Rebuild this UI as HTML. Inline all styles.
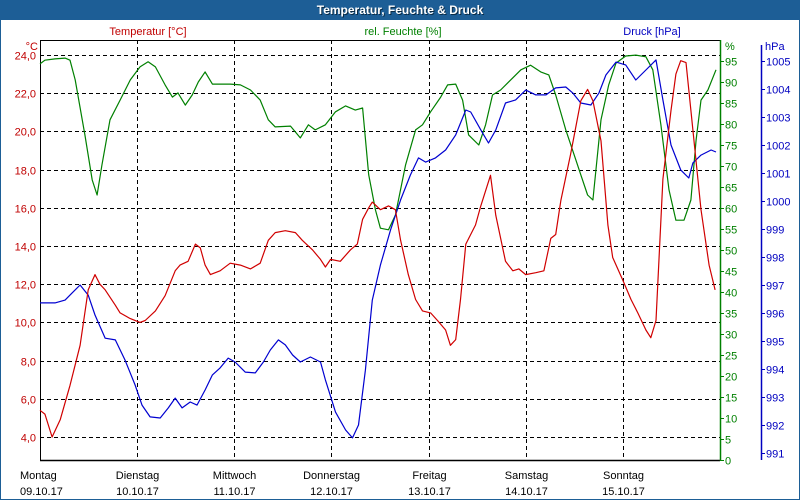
<!DOCTYPE html>
<html><head><meta charset="utf-8"><style>
body{margin:0;background:#fff;}
svg{display:block;font-family:"Liberation Sans",sans-serif;}
</style></head><body>
<svg id="chart" width="800" height="500" viewBox="0 0 800 500">
<rect x="0" y="0" width="800" height="500" fill="#fff" stroke="#1d5e96" stroke-width="2"/>
<rect x="0" y="0" width="800" height="20" fill="#1d5e96"/>
<text x="401" y="15" text-anchor="middle" font-size="12" font-weight="bold" fill="#0a2a44">Temperatur, Feuchte &amp; Druck</text>
<text x="400" y="14" text-anchor="middle" font-size="12" font-weight="bold" fill="#fff">Temperatur, Feuchte &amp; Druck</text>
<text x="148" y="35" text-anchor="middle" font-size="11" fill="#c00000">Temperatur [°C]</text>
<text x="403" y="35" text-anchor="middle" font-size="11" fill="#008000">rel. Feuchte [%]</text>
<text x="652" y="35" text-anchor="middle" font-size="11" fill="#0000c0">Druck [hPa]</text>
<text x="38" y="50" text-anchor="end" font-size="11" fill="#c00000">°C</text>
<text x="725" y="50" font-size="11" fill="#008000">%</text>
<text x="765" y="50" font-size="11" fill="#0000c0">hPa</text>
<g id="grid"></g><g id="axes"></g><g id="series"></g>
</svg>
<script>
const days=["Montag","Dienstag","Mittwoch","Donnerstag","Freitag","Samstag","Sonntag"];
const dates=["09.10.17","10.10.17","11.10.17","12.10.17","13.10.17","14.10.17","15.10.17"];
const tempTicks=[4,6,8,10,12,14,16,18,20,22,24];
const humTicks=[0,5,10,15,20,25,30,35,40,45,50,55,60,65,70,75,80,85,90,95];
const presTicks=[991,992,993,994,995,996,997,998,999,1000,1001,1002,1003,1004,1005];
const tempHours=[0,1.2,3,5,7.4,9.9,11.9,13.6,14.8,16.1,18.6,19.8,22.3,24.7,26,28.5,30.9,33.4,34.6,36.6,38.4,39.6,40.8,42.1,44.5,47,49.5,52,54.4,56.4,58.1,60.6,63.1,64.8,67.3,69.3,70.5,71.8,74.2,76.7,78.4,79.7,81.2,82.1,84.1,86.1,87.8,89.1,91,92.8,94.5,96.5,98.2,100.2,101.4,102.7,103.9,105.2,107.6,108.9,111.3,112.6,115,116.8,118.3,120,122.5,124.5,126.2,127.4,128.7,131.1,133.6,135.3,136.6,138.6,140.3,141.5,144,146,147.7,149.7,150.9,152.2,153.9,155.9,157.1,158.3,159.6,160.8,163.3,165.3,166.8];
const tempValues=[5.4,5.2,4.0,4.9,6.7,8.8,11.7,12.5,12.0,11.7,10.9,10.5,10.2,10.0,10.1,10.6,11.4,12.7,13.0,13.2,14.1,13.9,13.0,12.5,12.7,13.1,13.0,12.8,13.1,14.3,14.7,14.8,14.7,14.3,13.8,13.3,12.9,13.3,13.2,13.8,14.1,15.4,16.0,16.3,15.9,16.1,15.9,14.3,12.5,11.2,10.6,10.5,10.1,9.6,8.8,9.1,11.2,14.1,15.1,16.1,17.7,15.6,13.2,12.7,12.8,12.5,12.6,12.7,14.4,14.6,16.4,18.8,21.6,22.2,21.6,19.5,15.1,13.4,12.2,11.2,10.5,9.6,9.2,10.1,17.5,21.1,23.0,23.7,23.6,21.1,15.9,13.0,11.7];
const humHours=[0,1.2,3.7,6.2,7.4,8.7,11.1,12.9,14.1,15.3,17.3,19.8,22.3,24.7,26.7,28.5,30.9,32.7,34.1,35.9,37.6,39.1,40.8,42.6,44.5,47,49.5,52,54.4,56.4,58.1,61.9,64.3,66.3,68,70.5,73,75.5,77.9,79.7,81.2,82.9,84.1,86.1,87.8,90.3,92.8,94.5,96.5,99,100.7,102.7,104.4,105.9,108.4,110.1,111.8,113.8,116.3,118.8,121.2,123.7,125.7,127.4,129.9,132.4,133.6,135.3,136.6,138.6,140.5,142.3,144.7,147.2,149.7,151.4,153.4,155.4,157.1,159.1,160.8,162.1,163.3,165,167];
const humValues=[94.3,95.2,95.5,95.7,95.2,90.5,77.4,66.7,63.1,70.2,81,85.7,90.5,93.6,94.8,93.6,89.3,86.4,87.4,84.5,86.9,90,92.4,89.5,89.5,89.5,89.3,88.1,85.7,81,79.3,79.5,76.7,79.8,78.6,79.8,82.9,84.3,83.3,83.8,67.9,59.5,55.2,54.8,58.3,70.2,78.6,79.8,82.9,86.4,89.3,89.5,85.7,77.4,75,79.8,86.9,88.1,90.5,92.9,94,92.4,91.7,86.9,78.6,71.4,67.9,63.1,61.9,81,89.3,94.5,96.2,96.4,96,92.9,79.8,64.3,57.1,57.1,61.9,76.2,85.7,88.1,92.9];
const presHours=[0,3.7,6.2,7.9,9.9,11.9,13.6,16.1,18.6,21,23.5,25.2,27.2,29.7,31.7,33.4,35.1,37.1,38.8,40.8,42.6,44.5,46.5,48.2,50.7,53.2,55.2,56.9,58.9,60.6,62.4,64.3,66.8,69.3,70.5,73,75.5,77.2,78.7,80.4,82.1,84.1,86.6,89.1,91.5,93.5,95.3,97.7,100.2,102.7,105.2,106.4,108.9,110.8,112.6,115,117.5,120,122.5,125,127.4,129.9,131.6,133.6,136.1,138.1,139.8,142.3,144.7,147.2,149.7,152.2,153.9,155.9,158.3,160.3,161.3,163.3,165.8,167];
const presValues=[996.36,996.36,996.46,996.71,997.0,996.64,995.93,995.1,995.04,994.32,993.43,992.71,992.29,992.25,992.61,992.96,992.61,992.82,992.71,993.25,993.79,994.04,994.39,994.25,993.89,993.86,994.25,994.68,995.04,994.86,994.5,994.25,994.43,994.25,993.61,992.46,991.82,991.54,992.0,993.96,996.46,997.71,998.96,1000.04,1000.93,1001.54,1001.39,1001.54,1001.82,1002.36,1003.25,1003.18,1002.54,1002.07,1002.54,1003.5,1003.61,1003.96,1003.79,1003.79,1004.04,1004.07,1003.86,1003.5,1003.43,1003.86,1004.5,1004.96,1004.86,1004.32,1004.68,1005.04,1003.61,1002.0,1001.11,1000.82,1001.36,1001.64,1001.82,1001.75];

const L=40,R=720,T=40,B=460;
const NS="http://www.w3.org/2000/svg";
const xH=h=>L+h*(R-L)/168;
const yT=v=>55+(24-v)*19.1;
const yH=v=>460-v*4.2;
const yP=v=>453-(v-991)*28;
function mk(tag,attrs,parent){const e=document.createElementNS(NS,tag);for(const k in attrs)e.setAttribute(k,attrs[k]);parent.appendChild(e);return e;}
const grid=document.getElementById('grid'),axes=document.getElementById('axes'),series=document.getElementById('series');
tempTicks.forEach(v=>{
  const y=Math.round(yT(v))+0.5;
  const g=mk('line',{x1:L,x2:R,y1:y,y2:y,stroke:'#000','stroke-dasharray':'4,3'},grid);
  
  
  const t=mk('text',{x:36,y:y+4,'text-anchor':'end','font-size':11,fill:'#c00000'},axes);
  t.textContent=v.toFixed(1).replace('.',',');
  
  
});
days.forEach((d,i)=>{
  const x=Math.round(xH(i*24))+0.5;
  if(i>0){
    const g=mk('line',{x1:x,x2:x,y1:T,y2:B,stroke:'#000','stroke-dasharray':'4,3'},grid);
    
    
  }
  const t1=mk('text',{x:i==0?20:x,y:479,'text-anchor':i==0?'start':'middle','font-size':11,fill:'#000'},axes);
  t1.textContent=d;
  
  
  const t2=mk('text',{x:i==0?20:x,y:495,'text-anchor':i==0?'start':'middle','font-size':11,fill:'#000'},axes);
  t2.textContent=dates[i];
  
  
});
let a=mk('path',{d:`M${L+0.5},${B} V${T+0.5} H${R}`,stroke:'#000',fill:'none'},axes);


a=mk('line',{x1:L,x2:R,y1:B+0.5,y2:B+0.5,stroke:'#000','stroke-width':1.5},axes);


a=mk('line',{x1:R+0.5,x2:R+0.5,y1:T,y2:B+1,stroke:'#008000','stroke-width':1.5},axes);


humTicks.forEach(v=>{
  const y=Math.round(yH(v))+0.5;
  const k=mk('line',{x1:R,x2:R+4,y1:y,y2:y,stroke:'#008000'},axes);
  
  
  const t=mk('text',{x:R+5,y:y+4,'font-size':11,fill:'#008000'},axes);
  t.textContent=v;
  
  
});
a=mk('line',{x1:761.5,x2:761.5,y1:45,y2:460,stroke:'#0000c0','stroke-width':1.5},axes);


presTicks.forEach(v=>{
  const y=Math.round(yP(v))+0.5;
  const k=mk('line',{x1:761,x2:765,y1:y,y2:y,stroke:'#0000c0'},axes);
  
  
  const t=mk('text',{x:766,y:y+4,'font-size':11,fill:'#0000c0'},axes);
  t.textContent=v;
  
  
});
function line(hours,vals,yf,color,name){
  const d=hours.map((h,i)=>(i?'L':'M')+xH(h).toFixed(1)+','+yf(vals[i]).toFixed(1)).join(' ');
  const p=mk('path',{d:d,fill:'none',stroke:color,'stroke-width':1.2,'stroke-linejoin':'round'},series);
  
  
}
line(humHours,humValues,yH,'#008000','humidity-line');
line(presHours,presValues,yP,'#0000d0','pressure-line');
line(tempHours,tempValues,yT,'#d00000','temperature-line');
</script>
</body></html>
